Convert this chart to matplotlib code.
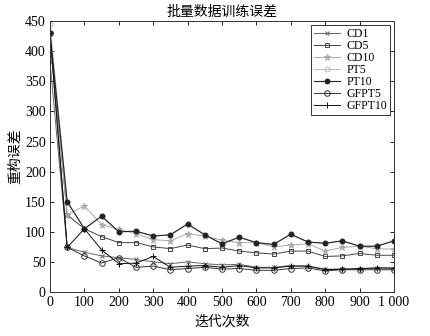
import numpy as np
import matplotlib
matplotlib.use("Agg")
import matplotlib.pyplot as plt
from matplotlib.ticker import FuncFormatter

plt.rcParams['font.family'] = ['Liberation Serif', 'Noto Sans CJK SC']

iters = np.arange(0, 1001, 50)

cd1 = [382, 74, 66, 60, 57, 54, 50, 47, 50, 47, 45, 46, 41, 41, 44, 43, 38, 38, 38, 40, 39]
cd5 = [430, 128, 105, 92, 82, 82, 75, 72, 78, 72, 73, 68, 65, 63, 68, 68, 59, 60, 64, 61, 61]
cd10 = [430, 128, 143, 112, 104, 97, 87, 85, 97, 93, 86, 82, 82, 75, 78, 80, 68, 74, 76, 72, 71]
pt5 = [445, 150, 105, 126, 100, 101, 93, 95, 113, 95, 80, 91, 82, 79, 96, 83, 81, 85, 76, 76, 85]
pt10 = [430, 150, 105, 126, 100, 101, 93, 95, 113, 95, 80, 91, 82, 79, 96, 83, 81, 85, 76, 76, 85]
gfpt5 = [430, 74, 60, 48, 57, 41, 43, 37, 39, 41, 38, 39, 36, 36, 39, 40, 35, 37, 37, 37, 37]
gfpt10 = [430, 74, 105, 70, 47, 48, 59, 41, 43, 44, 41, 44, 40, 40, 43, 43, 37, 38, 39, 40, 40]

fig = plt.figure(figsize=(4.31, 3.36), dpi=100)
ax = fig.add_axes([0.116, 0.131, 0.798, 0.806])

ms = 3.5
mew = 0.7
ax.plot(iters, cd1, color="#666666", marker="x", ms=ms, mew=mew, lw=0.7, label="CD1")
ax.plot(iters, cd5, color="#444444", marker="s", ms=ms, mew=mew, mfc="none", lw=0.7, label="CD5")
ax.plot(iters, cd10, color="#aaaaaa", marker="*", ms=ms + 1, mew=mew, lw=0.7, label="CD10")
ax.plot(iters, pt5, color="#bbbbbb", marker="o", ms=ms, mew=mew, mfc="none", lw=0.7, label="PT5")
ax.plot(iters, pt10, color="#222222", marker="o", ms=ms, mew=mew, lw=0.8, label="PT10")
ax.plot(iters, gfpt5, color="#333333", marker="o", ms=ms + 0.5, mew=mew, mfc="none", lw=0.7, label="GFPT5")
ax.plot(iters, gfpt10, color="#111111", marker="+", ms=ms + 1.5, mew=mew, lw=0.7, label="GFPT10")

ax.set_xlim(0, 1000)
ax.set_ylim(0, 450)
ax.set_xticks(np.arange(0, 1001, 100))
ax.set_yticks(np.arange(0, 451, 50))
ax.xaxis.set_major_formatter(FuncFormatter(lambda v, p: "1 000" if v == 1000 else "%d" % v))
ax.tick_params(direction="in", top=True, right=True, labelsize=10, length=3, width=0.6, pad=3)
for s in ax.spines.values():
    s.set_linewidth(0.7)
    s.set_color("#333333")

ax.set_title("批量数据训练误差", fontsize=10, pad=4)
ax.set_xlabel("迭代次数", fontsize=10, labelpad=4)
ax.set_ylabel("重构误差", fontsize=10, labelpad=2)

leg = ax.legend(loc="upper right", fontsize=8.5, frameon=True, fancybox=False,
                edgecolor="black", handlelength=2.2, labelspacing=0.0,
                borderpad=0.25, handletextpad=0.6, borderaxespad=0.3)
leg.get_frame().set_linewidth(0.7)

fig.savefig("out.png", dpi=100)
